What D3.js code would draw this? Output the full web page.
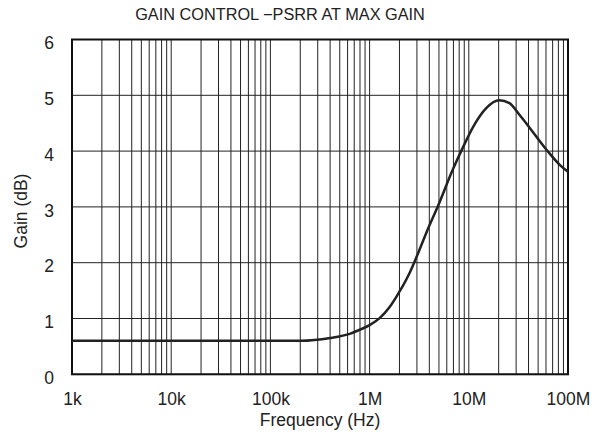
<!DOCTYPE html>
<html><head><meta charset="utf-8">
<script src="https://cdn.jsdelivr.net/npm/d3@7"></script>
<style>body{margin:0;background:#fff}text{font-family:"Liberation Sans",Arial,sans-serif;fill:#222}</style>
</head><body><svg id="c" width="596" height="443"></svg>
<script>
const freq = [1e3, 1e4, 1e5, 2e5, 4e5, 6.4e5, 8.0e5, 1.0e6, 1.27e6, 1.6e6, 2.0e6, 2.55e6, 3.0e6, 3.78e6, 4.9e6, 6.9e6, 8.8e6, 1.11e7, 1.5e7, 2.03e7, 2.57e7, 3.24e7, 4.1e7, 6.1e7, 8.3e7, 1e8];
const gain = [0.6, 0.6, 0.6, 0.6, 0.65, 0.73, 0.8, 0.88, 1.01, 1.21, 1.48, 1.83, 2.12, 2.56, 3.02, 3.67, 4.08, 4.44, 4.77, 4.91, 4.86, 4.65, 4.42, 4.02, 3.75, 3.63];
const xTickVals = [1e3, 1e4, 1e5, 1e6, 1e7, 1e8];
const xTickLabels = ["1k", "10k", "100k", "1M", "10M", "100M"];
const yTickVals = [0, 1, 2, 3, 4, 5, 6];
const title = "GAIN CONTROL \u2212PSRR AT MAX GAIN";
const xTitle = "Frequency (Hz)";
const yTitle = "Gain (dB)";

const svg = d3.select("#c");
const L = 72, R = 568, T = 39.5, B = 374.3;
const x = d3.scaleLog().domain([1e3, 1e8]).range([L, R]);
const y = d3.scaleLinear().domain([0, 6]).range([B, T]);
const FONT = "Liberation Sans, Arial, sans-serif";

// minor grid
const minors = [];
for (let d = 3; d < 8; d++) for (let m = 1; m <= 9; m++) minors.push(m * Math.pow(10, d));
minors.push(1e8);
svg.append("g").selectAll("line").data(minors).join("line")
  .attr("x1", d => x(d)).attr("x2", d => x(d)).attr("y1", T).attr("y2", B)
  .attr("stroke", "#222").attr("stroke-width", 1);
svg.append("g").selectAll("line").data(yTickVals).join("line")
  .attr("x1", L).attr("x2", R).attr("y1", d => y(d)).attr("y2", d => y(d))
  .attr("stroke", "#222").attr("stroke-width", 1);

// border
svg.append("rect").attr("x", L).attr("y", T).attr("width", R - L).attr("height", B - T)
  .attr("fill", "none").attr("stroke", "#111").attr("stroke-width", 2);

// curve
const line = d3.line().x((d, i) => x(freq[i])).y((d, i) => y(gain[i])).curve(d3.curveMonotoneX);
svg.append("path").datum(gain).attr("d", line).attr("fill", "none")
  .attr("stroke", "#222").attr("stroke-width", 2.5);

// axes (labels only)
const xAxis = d3.axisBottom(x).tickValues(xTickVals).tickFormat((d, i) => xTickLabels[i]).tickSize(0).tickPadding(0);
const gx = svg.append("g").attr("transform", `translate(0,${B})`).call(xAxis);
gx.select(".domain").remove();
gx.selectAll("text").attr("font-size", 17.5).attr("font-family", FONT).attr("fill", "#222").attr("y", 31).attr("dy", 0);
const yAxis = d3.axisLeft(y).tickValues(yTickVals).tickFormat(d3.format("d")).tickSize(0).tickPadding(18);
const gy = svg.append("g").attr("transform", `translate(${L},0)`).call(yAxis);
gy.select(".domain").remove();
gy.selectAll("text").attr("font-size", 17.5).attr("font-family", FONT).attr("fill", "#222").attr("dy", "0.52em");

svg.append("text").attr("x", 280).attr("y", 20).attr("text-anchor", "middle").attr("font-size", 16.3).text(title);
svg.append("text").attr("x", 320).attr("y", 426).attr("text-anchor", "middle").attr("font-size", 17.5).text(xTitle);
svg.append("text").attr("transform", `translate(27,211) rotate(-90)`).attr("text-anchor", "middle").attr("font-size", 17.5).text(yTitle);
</script></body></html>
